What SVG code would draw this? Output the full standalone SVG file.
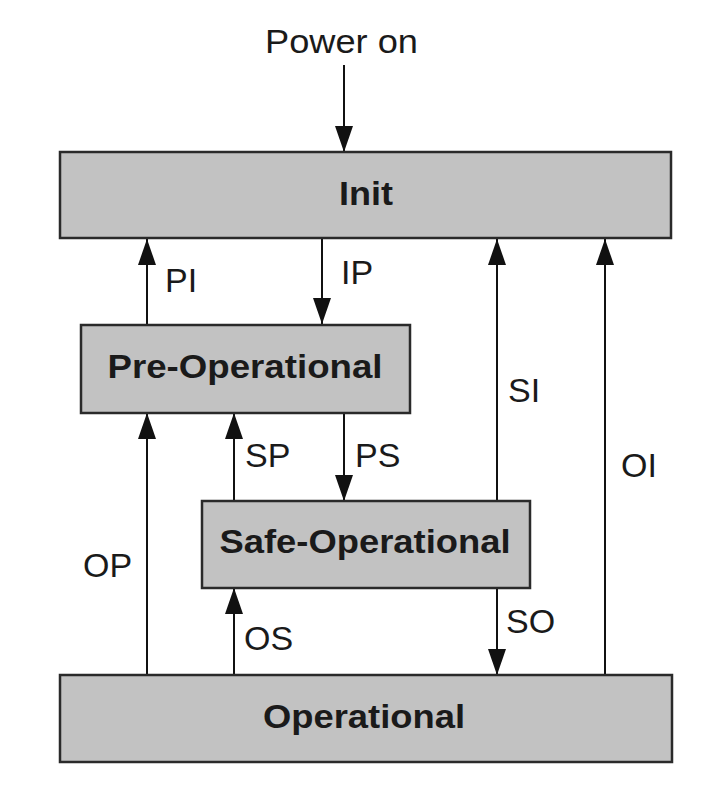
<svg xmlns="http://www.w3.org/2000/svg" width="709" height="789" viewBox="0 0 709 789">
<defs>
<style>
.box{fill:#c2c2c2;stroke:#2a2a2a;stroke-width:2.5}
.bl{font-family:"Liberation Sans",Arial,sans-serif;font-weight:bold;font-size:34px;fill:#1a1a1a;text-anchor:middle}
.lb{font-family:"Liberation Sans",Arial,sans-serif;font-size:34px;fill:#1a1a1a}
.ln{stroke:#111;stroke-width:2;fill:none;marker-end:url(#ah)}
</style>
<marker id="ah" markerUnits="userSpaceOnUse" markerWidth="26" markerHeight="18" refX="26" refY="9" orient="auto" viewBox="0 0 26 18">
<path d="M0,0 L26,9 L0,18 z" fill="#111"/>
</marker>
</defs>
<rect width="709" height="789" fill="#fff"/>
<g id="connectors">
<line class="ln" x1="344" y1="65" x2="344" y2="152"/>
<line class="ln" x1="147" y1="324" x2="147" y2="239"/>
<line class="ln" x1="322" y1="239" x2="322" y2="324"/>
<line class="ln" x1="497" y1="501" x2="497" y2="239"/>
<line class="ln" x1="605" y1="675" x2="605" y2="239"/>
<line class="ln" x1="147" y1="675" x2="147" y2="413"/>
<line class="ln" x1="234" y1="501" x2="234" y2="413"/>
<line class="ln" x1="344" y1="413" x2="344" y2="501"/>
<line class="ln" x1="234" y1="675" x2="234" y2="588"/>
<line class="ln" x1="497" y1="588" x2="497" y2="675"/>
<text class="lb" x="265" y="53" textLength="153" lengthAdjust="spacingAndGlyphs">Power on</text>
<text class="lb" x="165" y="292">PI</text>
<text class="lb" x="341" y="284">IP</text>
<text class="lb" x="508" y="402">SI</text>
<text class="lb" x="621" y="477">OI</text>
<text class="lb" x="245" y="467">SP</text>
<text class="lb" x="355" y="467">PS</text>
<text class="lb" x="83" y="577">OP</text>
<text class="lb" x="244" y="650">OS</text>
<text class="lb" x="506" y="633">SO</text>
</g>
<g id="init">
<rect class="box" x="60" y="152" width="611" height="86"/>
<text class="bl" x="366" y="205" textLength="54" lengthAdjust="spacingAndGlyphs">Init</text>
</g>
<g id="preop">
<rect class="box" x="81" y="325" width="329" height="88"/>
<text class="bl" x="245" y="378" textLength="275" lengthAdjust="spacingAndGlyphs">Pre-Operational</text>
</g>
<g id="safeop">
<rect class="box" x="202" y="501" width="328" height="87"/>
<text class="bl" x="365" y="553" textLength="291" lengthAdjust="spacingAndGlyphs">Safe-Operational</text>
</g>
<g id="op">
<rect class="box" x="60" y="675" width="612" height="87"/>
<text class="bl" x="364" y="728" textLength="202" lengthAdjust="spacingAndGlyphs">Operational</text>
</g>
</svg>
